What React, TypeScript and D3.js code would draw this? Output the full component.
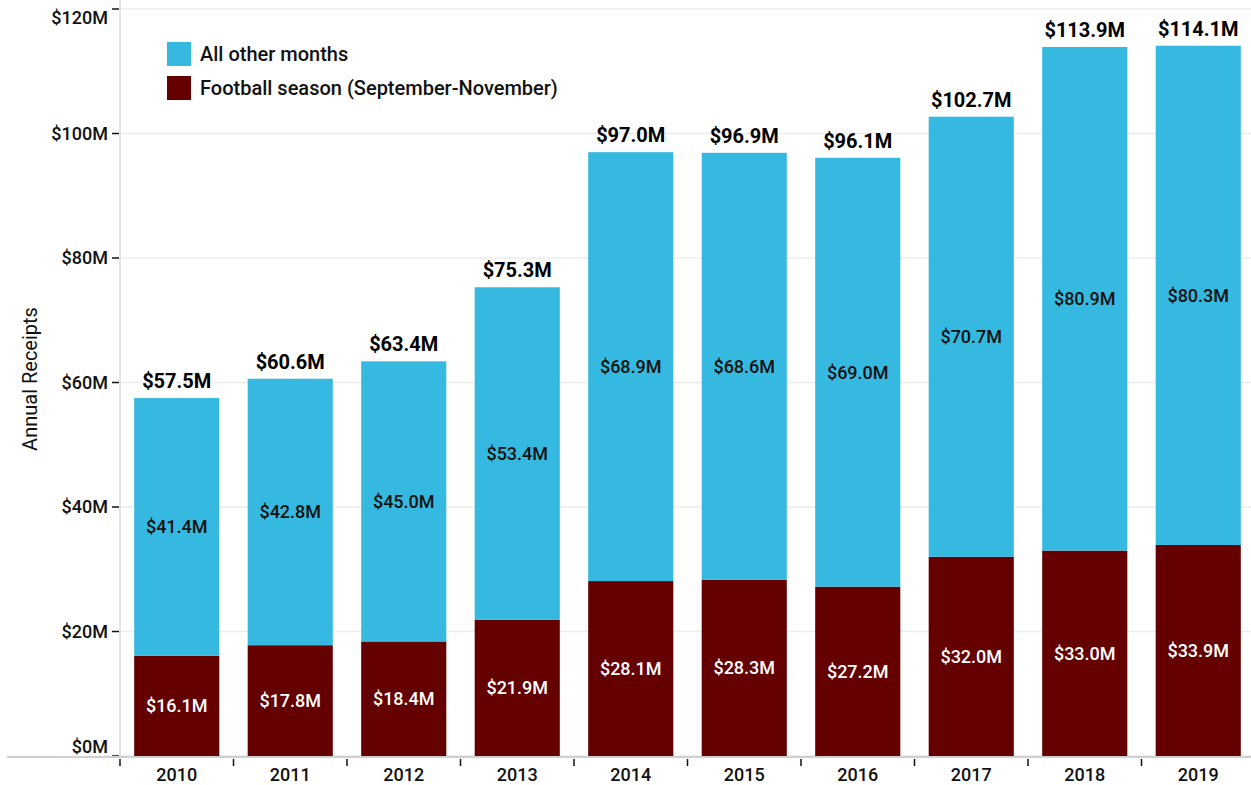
import React, { useRef, useEffect } from "react";
import * as d3 from "d3";

const years = ["2010", "2011", "2012", "2013", "2014", "2015", "2016", "2017", "2018", "2019"];
const footballSeason = [16.1, 17.8, 18.4, 21.9, 28.1, 28.3, 27.2, 32.0, 33.0, 33.9];
const otherMonths = [41.4, 42.8, 45.0, 53.4, 68.9, 68.6, 69.0, 70.7, 80.9, 80.3];
const totals = [57.5, 60.6, 63.4, 75.3, 97.0, 96.9, 96.1, 102.7, 113.9, 114.1];
const yTicks = [0, 20, 40, 60, 80, 100, 120];

const BLUE = "#36b9e0";
const MAROON = "#640000";
const FONT = "Roboto, 'DejaVu Sans', sans-serif";

const App: React.FC = () => {
  const ref = useRef<SVGSVGElement | null>(null);

  useEffect(() => {
    if (!ref.current) return;
    const width = 1251;
    const svg = d3.select(ref.current);
    svg.selectAll("*").remove();

    const x = d3.scaleBand().domain(years).range([120, 1255]).paddingInner(0.25).paddingOuter(0.125);
    const y = d3.scaleLinear().domain([0, 120]).range([756, 9]);
    const step = x.step();
    const bw = x.bandwidth();

    // gridlines
    svg
      .append("g")
      .selectAll("line")
      .data(yTicks)
      .join("line")
      .attr("x1", 120)
      .attr("x2", width)
      .attr("y1", (d) => y(d))
      .attr("y2", (d) => y(d))
      .attr("stroke", "#ececec")
      .attr("stroke-width", 1.5);

    // y axis line
    svg
      .append("line")
      .attr("x1", 120)
      .attr("x2", 120)
      .attr("y1", 0)
      .attr("y2", 756)
      .attr("stroke", "#c8c8c8")
      .attr("stroke-width", 1);

    // y ticks + labels (end labels nudged inside so they aren't clipped)
    const yt = svg.append("g").selectAll("g").data(yTicks).join("g");
    yt.append("line")
      .attr("x1", 112)
      .attr("x2", 119)
      .attr("y1", (d) => y(d))
      .attr("y2", (d) => y(d))
      .attr("stroke", "#111")
      .attr("stroke-width", 1.5);
    yt.append("text")
      .attr("x", 108)
      .attr("y", (d) => (d === 120 ? y(d) + 9 : d === 0 ? y(d) - 9 : y(d)))
      .attr("dy", "0.36em")
      .attr("text-anchor", "end")
      .attr("font-family", FONT)
      .attr("font-size", 18)
      .attr("font-weight", 500)
      .attr("fill", "#111")
      .text((d) => `$${d}M`);

    // bars
    const bars = svg.append("g").selectAll("g").data(years).join("g");
    bars
      .append("rect")
      .attr("x", (d) => x(d)!)
      .attr("width", bw)
      .attr("y", (d, i) => y(footballSeason[i]))
      .attr("height", (d, i) => y(0) - y(footballSeason[i]))
      .attr("fill", MAROON);
    bars
      .append("rect")
      .attr("x", (d) => x(d)!)
      .attr("width", bw)
      .attr("y", (d, i) => y(totals[i]))
      .attr("height", (d, i) => y(footballSeason[i]) - y(totals[i]))
      .attr("fill", BLUE);

    // inner labels
    bars
      .append("text")
      .attr("x", (d) => x(d)! + bw / 2)
      .attr("y", (d, i) => (y(0) + y(footballSeason[i])) / 2)
      .attr("dy", "0.36em")
      .attr("text-anchor", "middle")
      .attr("font-family", FONT)
      .attr("font-size", 18)
      .attr("font-weight", 500)
      .attr("fill", "#fff")
      .text((d, i) => `$${footballSeason[i].toFixed(1)}M`);
    bars
      .append("text")
      .attr("x", (d) => x(d)! + bw / 2)
      .attr("y", (d, i) => (y(footballSeason[i]) + y(totals[i])) / 2)
      .attr("dy", "0.36em")
      .attr("text-anchor", "middle")
      .attr("font-family", FONT)
      .attr("font-size", 18)
      .attr("font-weight", 500)
      .attr("fill", "#111")
      .text((d, i) => `$${otherMonths[i].toFixed(1)}M`);
    // totals
    bars
      .append("text")
      .attr("x", (d) => x(d)! + bw / 2)
      .attr("y", (d, i) => y(totals[i]) - 10)
      .attr("text-anchor", "middle")
      .attr("font-family", FONT)
      .attr("font-size", 20)
      .attr("font-weight", 700)
      .attr("fill", "#000")
      .text((d, i) => `$${totals[i].toFixed(1)}M`);

    // x axis
    svg
      .append("line")
      .attr("x1", 7)
      .attr("x2", width)
      .attr("y1", 757)
      .attr("y2", 757)
      .attr("stroke", "#cfcfcf")
      .attr("stroke-width", 2);
    svg
      .append("g")
      .selectAll("line")
      .data(years)
      .join("line")
      .attr("x1", (d) => x(d)! - (step - bw) / 2)
      .attr("x2", (d) => x(d)! - (step - bw) / 2)
      .attr("y1", 759)
      .attr("y2", 766)
      .attr("stroke", "#111")
      .attr("stroke-width", 1.5);
    svg
      .append("g")
      .selectAll("text")
      .data(years)
      .join("text")
      .attr("x", (d) => x(d)! + bw / 2)
      .attr("y", 781)
      .attr("text-anchor", "middle")
      .attr("font-family", FONT)
      .attr("font-size", 18)
      .attr("font-weight", 500)
      .attr("fill", "#111")
      .text((d) => d);

    // y title
    svg
      .append("text")
      .attr("transform", `translate(37,379) rotate(-90)`)
      .attr("text-anchor", "middle")
      .attr("font-family", FONT)
      .attr("font-size", 20)
      .attr("fill", "#111")
      .text("Annual Receipts");

    // legend
    const legend = [
      { label: "All other months", color: BLUE },
      { label: "Football season (September-November)", color: MAROON },
    ];
    const lg = svg.append("g").selectAll("g").data(legend).join("g")
      .attr("transform", (d, i) => `translate(167,${42 + i * 34})`);
    lg.append("rect").attr("width", 24).attr("height", 24).attr("fill", (d) => d.color);
    lg.append("text")
      .attr("x", 33)
      .attr("y", 12)
      .attr("dy", "0.36em")
      .attr("font-family", FONT)
      .attr("font-size", 20)
      .attr("font-weight", 500)
      .attr("fill", "#111")
      .text((d) => d.label);
  }, []);

  return (
    <div style={{ position: "absolute", left: 0, top: 0 }}>
      <svg ref={ref} width={1251} height={785} style={{ display: "block", background: "#fff" }} />
    </div>
  );
};

export default App;
